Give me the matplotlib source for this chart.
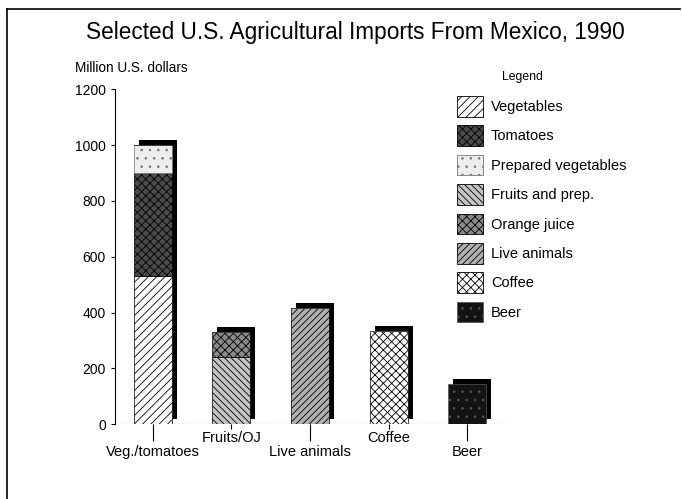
import matplotlib
matplotlib.use("Agg")
import matplotlib.pyplot as plt
from matplotlib.patches import Patch
from matplotlib.lines import Line2D
from matplotlib.transforms import offset_copy

plt.rcParams['font.family'] = ['Liberation Sans', 'DejaVu Sans']
plt.rcParams['hatch.linewidth'] = 0.6

# data (million U.S. dollars)
categories = ["Veg./tomatoes", "Fruits/OJ", "Live animals", "Coffee", "Beer"]
vegetables = [530, 0, 0, 0, 0]
tomatoes = [370, 0, 0, 0, 0]
prepared_veg = [100, 0, 0, 0, 0]
fruits = [0, 240, 0, 0, 0]
orange_juice = [0, 90, 0, 0, 0]
live_animals = [0, 0, 415, 0, 0]
coffee = [0, 0, 0, 335, 0]
beer = [0, 0, 0, 0, 145]
yticks = [0, 200, 400, 600, 800, 1000, 1200]

# legend label -> (series, face, hatch, hatch/edge colour)
series = [
    ("Vegetables", vegetables, "white", "////", "black"),
    ("Tomatoes", tomatoes, "#4a4a4a", "xxxx", "black"),
    ("Prepared vegetables", prepared_veg, "#ededed", "..", "#777777"),
    ("Fruits and prep.", fruits, "#c4c4c4", "\\\\\\\\\\", "black"),
    ("Orange juice", orange_juice, "#8a8a8a", "xxxx", "black"),
    ("Live animals", live_animals, "#b0b0b0", "/////", "black"),
    ("Coffee", coffee, "white", "xxxx", "black"),
    ("Beer", beer, "#141414", "..", "#555555"),
]

fig = plt.figure(figsize=(6.82, 4.99), dpi=100)
ax = fig.add_axes([0.1686, 0.150, 0.572, 0.671])

x = list(range(len(categories)))
width = 0.485
totals = [sum(s[1][i] for s in series) for i in x]

# 3-D look: black block shifted up/right behind each bar
shadow_tr = offset_copy(ax.transData, fig=fig, x=5, y=5, units='dots')
ax.bar(x, totals, width, color="black", transform=shadow_tr, zorder=1)

bottom = [0] * len(x)
handles = []
for name, vals, fc, hatch, hc in series:
    ax.bar(x, vals, width, bottom=bottom, facecolor=fc, hatch=hatch,
           edgecolor=hc, linewidth=0.5, zorder=2)
    bottom = [b + v for b, v in zip(bottom, vals)]
    handles.append(Patch(facecolor=fc, hatch=hatch, edgecolor=hc, linewidth=0.6, label=name))

ax.set_xlim(-0.48, 4.48)
ax.set_ylim(0, 1200)
ax.set_yticks(yticks)
ax.tick_params(axis='y', length=3, width=0.8, pad=3.5, labelsize=10)

# staggered category labels: long ticks (major) and short ticks (minor)
ax.set_xticks(x[0::2])
ax.set_xticklabels(categories[0::2])
ax.set_xticks(x[1::2], minor=True)
ax.set_xticklabels(categories[1::2], minor=True)
ax.tick_params(axis='x', which='major', length=12, width=0.8, pad=3, labelsize=10.5)
ax.tick_params(axis='x', which='minor', length=3.6, width=0.8, pad=1.5, labelsize=10.5)

for s in ["top", "right", "bottom"]:
    ax.spines[s].set_visible(False)
ax.spines["left"].set_linewidth(0.8)
ax.axhline(0, color="#333333", linewidth=0.8, linestyle=(0, (2, 1.5)), zorder=3)

leg = ax.legend(handles=handles, loc="upper left",
                bbox_to_anchor=(457 / 682, 1 - 96 / 499), bbox_transform=fig.transFigure,
                frameon=False, fontsize=10.5,
                handlelength=1.78, handleheight=1.8, labelspacing=0.6,
                handletextpad=0.55, borderpad=0, borderaxespad=0)
fig.text(522 / 682, 1 - 77 / 499, "Legend", ha="center", va="center", fontsize=8.8)

fig.text(0.521, 1 - 32 / 499, "Selected U.S. Agricultural Imports From Mexico, 1990",
         ha="center", va="center", fontsize=16.3)
fig.text(75 / 682, 1 - 68 / 499, "Million U.S. dollars", ha="left", va="center", fontsize=9.8)

# scanned page border (left and top)
fig.add_artist(Line2D([0.0103, 0.0103], [0, 0.982], transform=fig.transFigure, color="black", linewidth=1.2))
fig.add_artist(Line2D([0.0103, 0.997], [0.982, 0.982], transform=fig.transFigure, color="black", linewidth=1.2))

fig.savefig("out.png", dpi=100)
